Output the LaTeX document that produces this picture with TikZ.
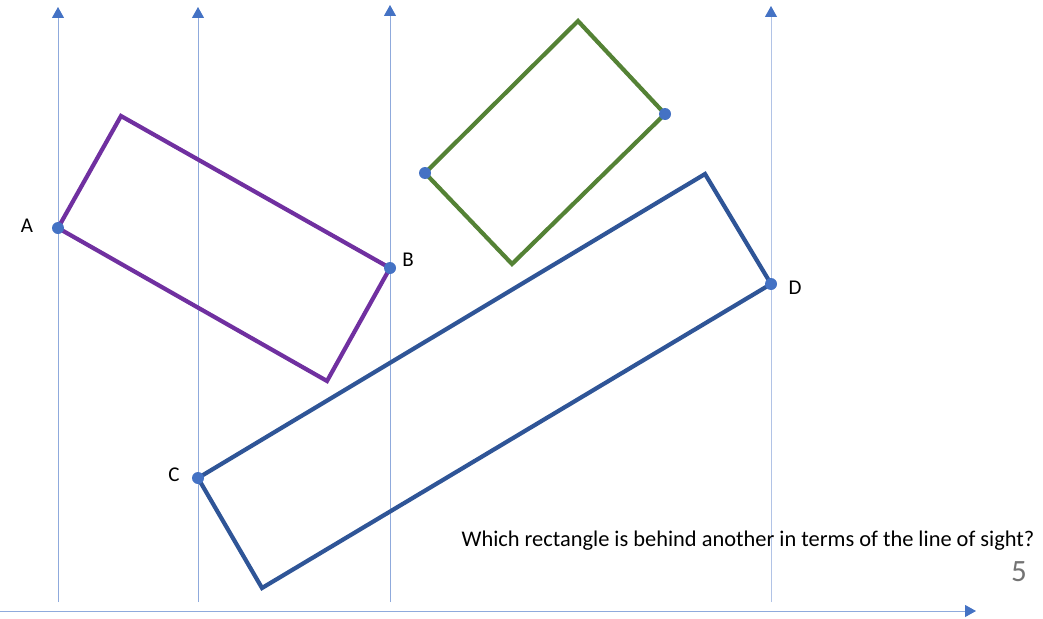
\documentclass[tikz,border=0pt]{standalone}
\usepackage{fontspec}
\setmainfont{Carlito}
\usetikzlibrary{arrows.meta}
\definecolor{ray}{HTML}{8FAADC}
\definecolor{tip}{HTML}{4472C4}
\definecolor{purp}{HTML}{7030A0}
\definecolor{grn}{HTML}{548235}
\definecolor{blu}{HTML}{2F5597}
\tikzset{
  sight/.style={draw=ray,line width=1pt,-{Triangle[width=12pt,length=11pt,fill=tip,color=tip]}},
  rect/.style={line width=4.2pt,line join=miter},
  dot/.style={fill=tip},
  lbl/.style={font=\fontsize{21}{23}\selectfont,inner sep=0pt}
}
\begin{document}
\begin{tikzpicture}[x=1pt,y=-1pt]
        \useasboundingbox (0,0) rectangle (1043,618);
        % purple
        \coordinate (A) at (58,228);
        \coordinate (P1) at (121,116);
        \coordinate (B) at (390,268);
        \coordinate (P2) at (327,381);
        % green
        \coordinate (G1) at (425,173);
        \coordinate (G2) at (578,21);
        \coordinate (G3) at (665,114);
        \coordinate (G4) at (512,264);
        % blue
        \coordinate (C) at (198,478);
        \coordinate (Q1) at (705,174);
        \coordinate (D) at (771,284);
        \coordinate (Q2) at (262,588);
        % lines of sight
        \coordinate (s1) at (58,602);  \coordinate (t1) at (58,7);
        \coordinate (s2) at (198,602); \coordinate (t2) at (198,7);
        \coordinate (s3) at (390,602); \coordinate (t3) at (390,5);
        \coordinate (s4) at (771,602); \coordinate (t4) at (771,6);
        \coordinate (h0) at (0,611);   \coordinate (h1) at (976,611);
        \draw[sight] (s1) -- (t1);
        \draw[sight] (s2) -- (t2);
        \draw[sight] (s3) -- (t3);
        \draw[sight,draw=ray!70] (s4) -- (t4);
        \draw[sight] (h0) -- (h1);
        \draw[rect,purp] (A) -- (P1) -- (B) -- (P2) -- cycle;
        \draw[rect,grn] (G1) -- (G2) -- (G3) -- (G4) -- cycle;
        \draw[rect,blu] (C) -- (Q1) -- (D) -- (Q2) -- cycle;
        \foreach \p in {A,B,C,D,G1,G3}
          \fill[dot] (\p) circle (6pt);
        \node[lbl] (la) at (27,226) {A};
        \node[lbl] (lb) at (408,260) {B};
        \node[lbl] (lc) at (174,475) {C};
        \node[lbl] (ld) at (795,288) {D};
        \node[lbl,font=\fontsize{22.4}{24}\selectfont] (q) at (748,541) {Which rectangle is behind another in terms of the line of sight?};
        \node[lbl,font=\fontsize{31}{33}\selectfont,text=black!55] (pg) at (1019,572) {5};
    \end{tikzpicture}
\end{document}
